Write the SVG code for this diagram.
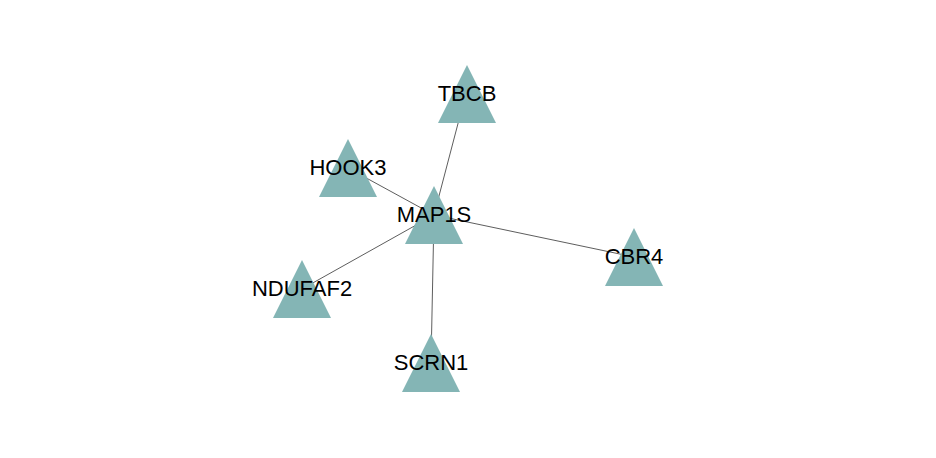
<svg xmlns="http://www.w3.org/2000/svg" width="936" height="458" viewBox="0 0 936 458">
<style>
.edge{stroke:#333;stroke-width:0.8;fill:none}
.tri{fill:#84b5b5}
.lbl{font-family:"Liberation Sans",Arial,sans-serif;font-size:22px;fill:#000;text-anchor:middle}
</style>
<rect width="936" height="458" fill="#fff"/>
<defs>
<polygon id="t" class="tri" points="0,-29 29,29 -29,29"/>
</defs>
<g id="edges">
<line class="edge" x1="434" y1="215" x2="466" y2="93"/>
<line class="edge" x1="434" y1="215" x2="348" y2="168"/>
<line class="edge" x1="434" y1="215" x2="634" y2="257"/>
<line class="edge" x1="434" y1="215" x2="302" y2="289"/>
<line class="edge" x1="434" y1="215" x2="431" y2="363"/>
</g>
<g id="MAP1S"><use href="#t" x="434" y="215"/><text class="lbl" x="434" y="222">MAP1S</text></g>
<g id="TBCB"><use href="#t" x="467" y="94"/><text class="lbl" x="467" y="101">TBCB</text></g>
<g id="HOOK3"><use href="#t" x="348" y="168"/><text class="lbl" x="348" y="175">HOOK3</text></g>
<g id="CBR4"><use href="#t" x="634" y="257"/><text class="lbl" x="634" y="264">CBR4</text></g>
<g id="NDUFAF2"><use href="#t" x="302" y="289"/><text class="lbl" x="302" y="296">NDUFAF2</text></g>
<g id="SCRN1"><use href="#t" x="431" y="363"/><text class="lbl" x="431" y="370">SCRN1</text></g>
</svg>
